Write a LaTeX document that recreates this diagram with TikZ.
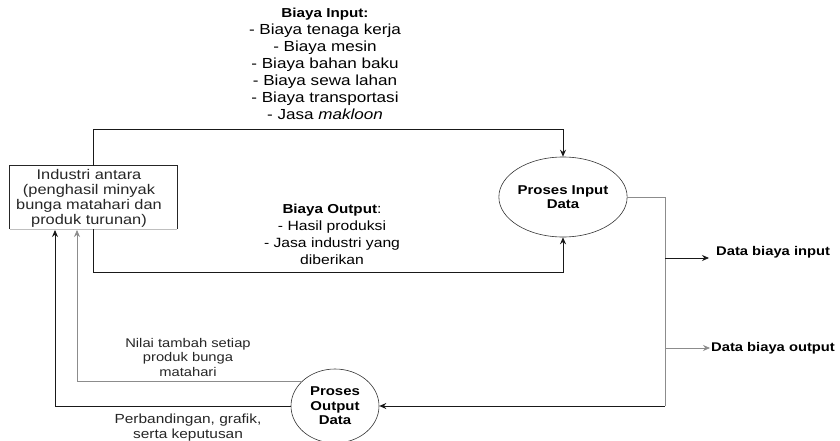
\documentclass[tikz,border=0pt]{standalone}
\usepackage{fontspec}
\setmainfont{Liberation Sans}[FakeStretch=1.17]
\usetikzlibrary{arrows.meta,shapes.geometric}
\begin{document}
\begin{tikzpicture}[x=1pt,y=-1pt,
  txt/.style={align=center, inner sep=0pt},
  boxtxt/.style={align=center, inner sep=0pt, text=black!85},
  proc/.style={ellipse, draw=black!80, line width=0.6pt, inner sep=0pt, align=center,
    font=\bfseries\fontsize{12.8}{14.5}\selectfont},
  datalbl/.style={anchor=west, inner sep=0pt, font=\bfseries\fontsize{12.6}{14}\selectfont},
  arr/.style={-{Stealth[length=7pt,width=6pt]}},
  dark/.style={draw=black!90, line width=0.9pt},
  lite/.style={draw=black!45, line width=0.7pt}
]
\useasboundingbox (0,0) rectangle (840,441);

% entity box: three dark sides, a faint bottom edge
\node[minimum width=167pt, minimum height=63pt, inner sep=0pt] (box) at (93.5,197.5) {};
\draw[draw=black!85, line width=0.8pt] (box.south west) -- (box.north west) -- (box.north east) -- (box.south east);
\draw[draw=black!25, line width=0.5pt] (box.south west) -- (box.south east);
\node[boxtxt, font=\fontsize{14}{15}\selectfont] (boxt) at (89,198)
  {Industri antara\\(penghasil minyak\\bunga matahari dan\\produk turunan)};

% processes
\node[proc, minimum width=96pt, minimum height=80pt] (inc) at (563,197) {Proses Input\\Data};
\node[proc, minimum width=88pt, minimum height=74pt] (outc) at (335,406) {Proses\\Output\\Data};

% flow labels
\node[txt, font=\fontsize{14.6}{16.9}\selectfont] (costin) at (325,64)
  {{\bfseries\fontsize{13}{16.9}\selectfont Biaya Input:}\\
  - Biaya tenaga kerja\\- Biaya mesin\\- Biaya bahan baku\\- Biaya sewa lahan\\
  - Biaya transportasi\\- Jasa \textit{makloon}};
\node[txt, font=\fontsize{13.4}{17}\selectfont] (costout) at (332,234)
  {{\bfseries\fontsize{13}{17}\selectfont Biaya Output}:\\
  - Hasil produksi\\- Jasa industri yang\\diberikan};
\node[boxtxt, font=\fontsize{12.6}{14.5}\selectfont] (added) at (188,357)
  {Nilai tambah setiap\\produk bunga\\matahari};
\node[boxtxt, font=\fontsize{13.2}{15}\selectfont] (compare) at (188,428)
  {Perbandingan, grafik,\\serta keputusan};
\node[datalbl] (datain) at (716,252) {Data biaya input};
\node[datalbl] (dataout) at (711,348) {Data biaya output};

% junction points
\coordinate (rtop) at (665,197);
\coordinate (rbot) at (665,406);
\coordinate (br1) at (665,258);
\coordinate (br2) at (665,348);
\coordinate (tip1) at (709,258);
\coordinate (tip2) at (710,348);
\coordinate (bx1) at (55,230);
\coordinate (bx2) at (77,230);

% input costs and output costs into the input process
\draw[dark, arr] (box.north) -- ++(0,-36) -| (inc.north);
\draw[dark, arr] (box.south) -- ++(0,43) -| (inc.south);

% data out of the input process
\draw[lite] (inc.east) -- (rtop) -- (rbot);
\draw[dark, arr] (rbot) -- (outc.east);
\draw[dark, line width=0.8pt, arr] (br1) -- (tip1);
\draw[lite, arr] (br2) -- (tip2);

% results back to the entity
\draw[lite, arr] (outc.144) -| (bx2);
\draw[dark, arr] (outc.west) -| (bx1);
\end{tikzpicture}
\end{document}
